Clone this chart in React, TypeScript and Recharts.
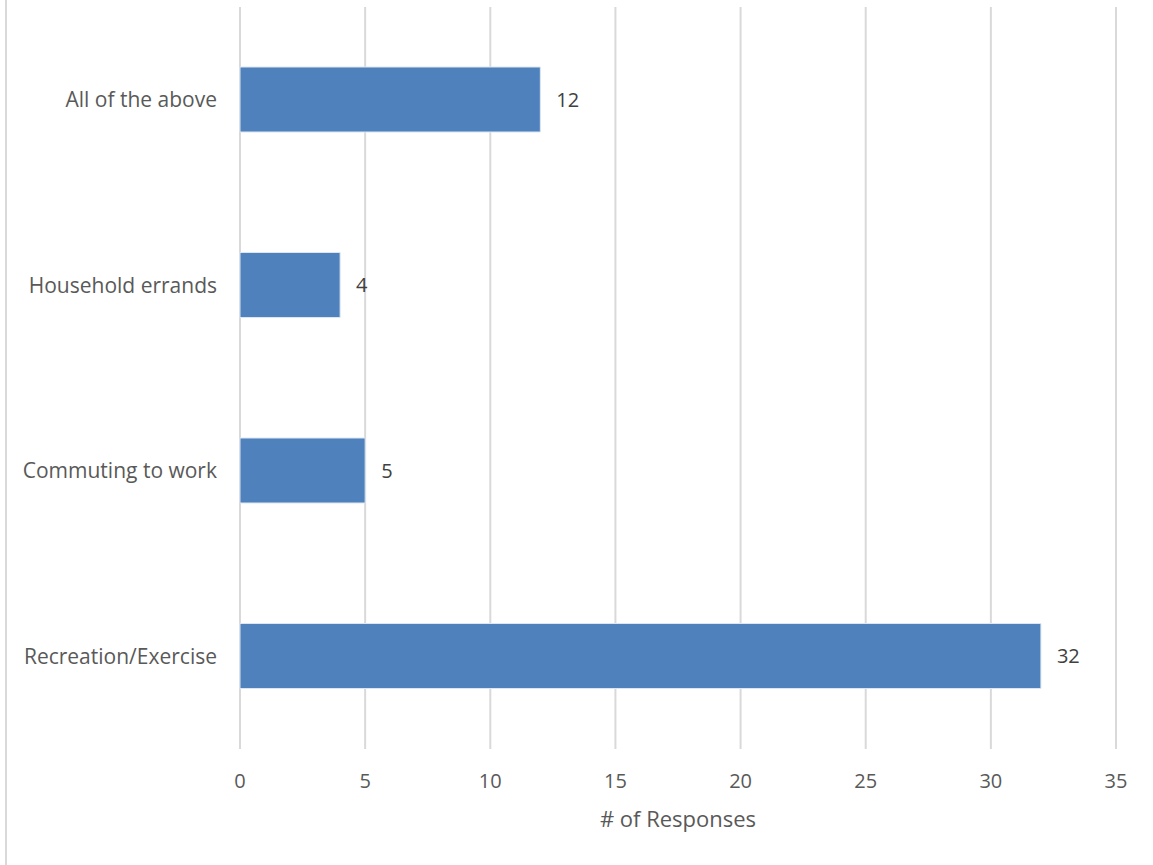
import { BarChart, Bar, XAxis, YAxis, CartesianGrid, LabelList } from "recharts"

const categories = ["All of the above", "Household errands", "Commuting to work", "Recreation/Exercise"]
const responses = [12, 4, 5, 32]
const xTicks = [0, 5, 10, 15, 20, 25, 30, 35]

const data = categories.map((name, i) => ({ name, value: responses[i] }))

const font = "'Open Sans', sans-serif"

export default function App() {
  return (
    <div style={{ position: "absolute", left: 0, top: 0, width: 1153, height: 865, background: "#fff", fontFamily: font }}>
      <div style={{ position: "absolute", left: 5, top: 0, width: 2, height: 865, background: "#d9d9d9" }} />
      <BarChart
        width={1153}
        height={865}
        data={data}
        layout="vertical"
        margin={{ top: 7, right: 37, bottom: 30, left: 0 }}
        barSize={65}
      >
        <CartesianGrid horizontal={false} stroke="#d9d9d9" strokeWidth={2} />
        <XAxis
          type="number"
          domain={[0, 35]}
          ticks={xTicks}
          axisLine={false}
          tickLine={false}
          tick={{ fill: "#595959", fontSize: 20, fontFamily: font }}
          tickMargin={19}
          height={86}
          label={{ value: "# of Responses", position: "insideBottom", offset: 8, fill: "#595959", fontSize: 22, fontFamily: font }}
        />
        <YAxis
          type="category"
          dataKey="name"
          width={240}
          axisLine={false}
          tickLine={false}
          tickMargin={17}
          tick={{ fill: "#595959", fontSize: 21, fontFamily: font }}
        />
        <Bar dataKey="value" fill="#4f81bd" stroke="#dce6f2" strokeWidth={1} isAnimationActive={false}>
          <LabelList dataKey="value" position="right" offset={16} fill="#404040" fontSize={20} fontFamily={font} />
        </Bar>
      </BarChart>
    </div>
  )
}
